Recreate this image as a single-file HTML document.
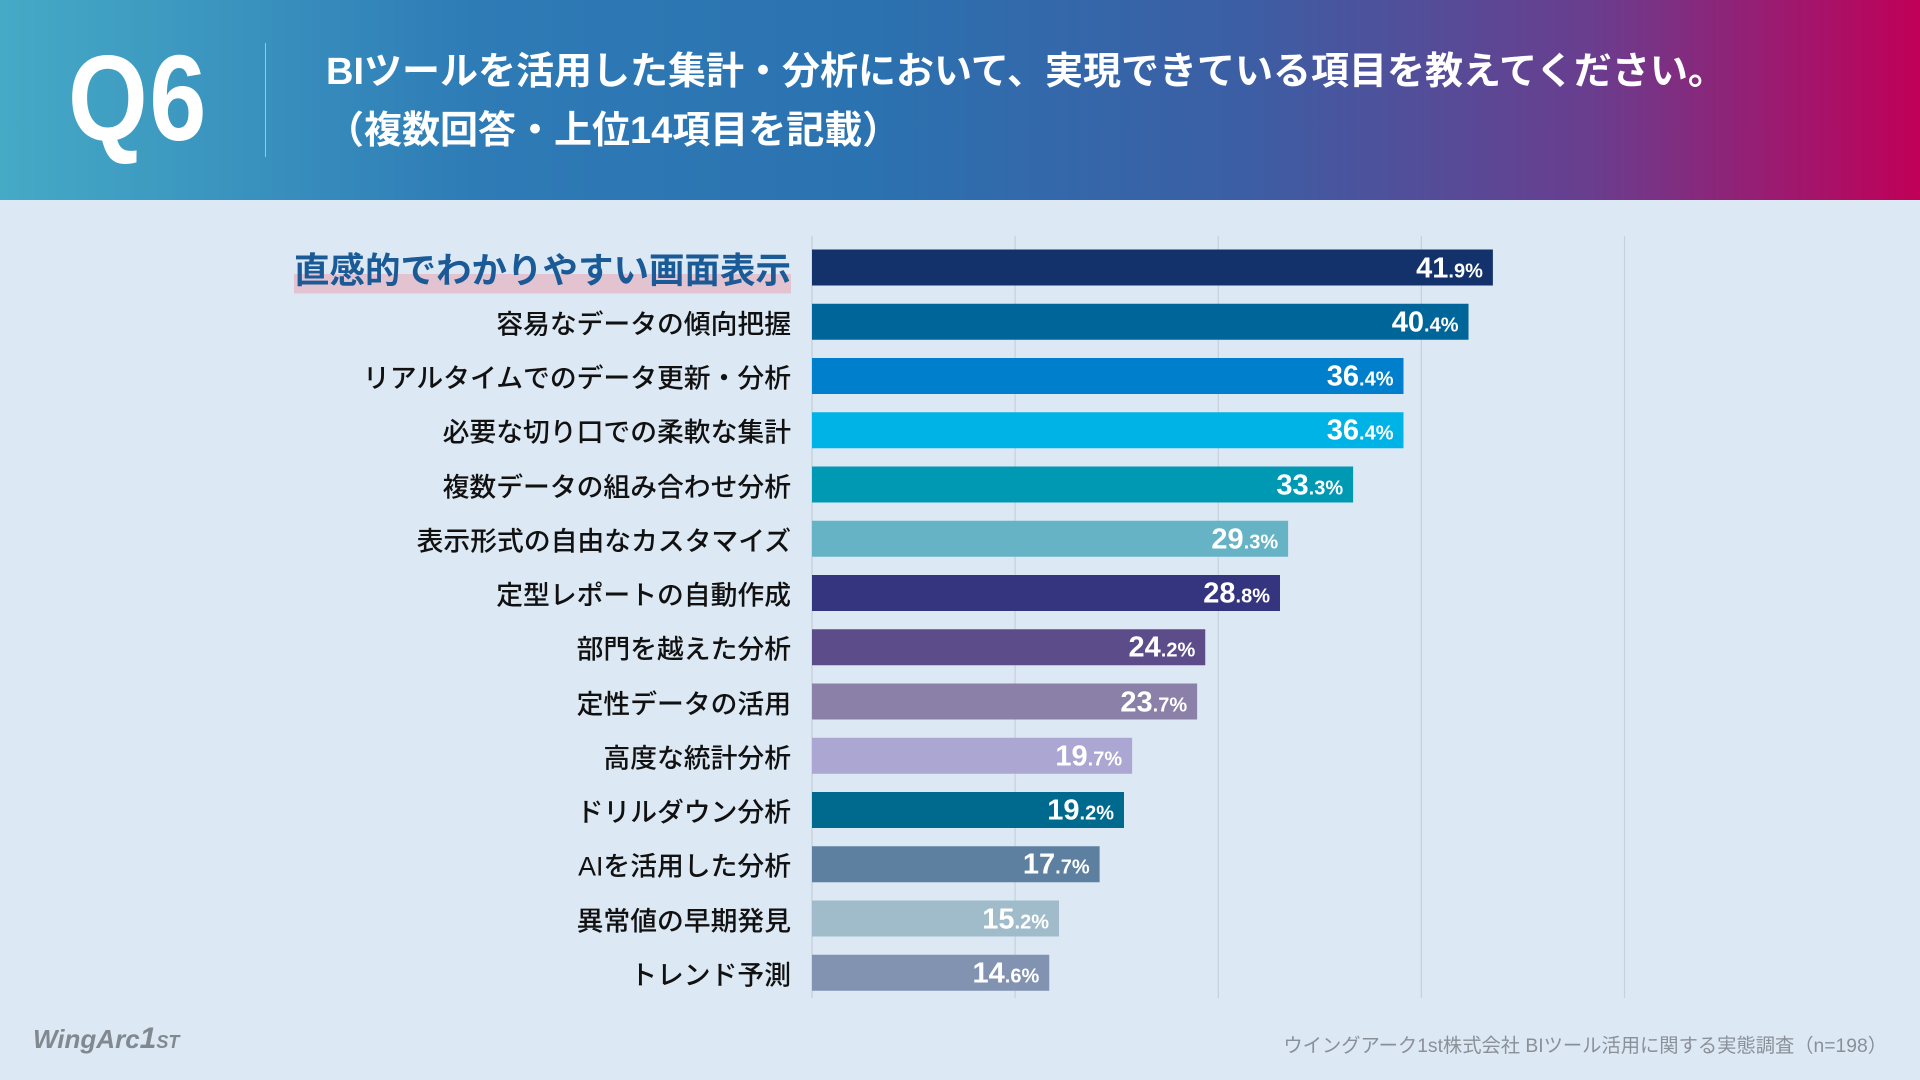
<!DOCTYPE html>
<html><head><meta charset="utf-8"><style>
*{margin:0;padding:0;box-sizing:border-box}
body{width:1920px;height:1080px;background:#dce8f4;font-family:"Liberation Sans","Noto Sans CJK JP",sans-serif;position:relative;overflow:hidden}
#hdr{position:absolute;left:0;top:0;width:1920px;height:200px;background:linear-gradient(90deg,#45aac6 0%,#2e7bb6 25%,#2b72b0 45%,#3c5ea4 65%,#6a3d8e 83%,#c10058 100%)}
#q{position:absolute;left:68px;top:28px;font-size:122px;font-weight:bold;color:#fff;letter-spacing:2px;transform:scaleX(0.84);transform-origin:left top}
#div{position:absolute;left:265px;top:43px;width:1px;height:114px;background:rgba(255,255,255,.5)}
.t{position:absolute;left:326px;color:#fff;font-weight:bold;font-size:38px;white-space:nowrap}
.lbl{position:absolute;right:1129px;font-size:26.8px;font-weight:500;color:#111;white-space:nowrap;transform:translateY(-50%)}
.val{position:absolute;color:#fff;font-weight:bold;font-size:29px;white-space:nowrap;transform:translateY(-50%)}
.val small{font-size:20px}
</style></head><body>
<div id="hdr">
<div id="q">Q6</div>
<div id="div"></div>
<div class="t" style="top:40px">BIツールを活用した集計・分析において、実現できている項目を教えてください。</div>
<div class="t" style="top:99px">（複数回答・上位14項目を記載）</div>
</div>
<svg id="chart" width="1920" height="1080" style="position:absolute;left:0;top:0"></svg>
<div id="labels"></div>
<div style="position:absolute;left:33px;top:1022px;font-size:26px;font-weight:bold;color:#808890;font-style:italic">WingArc<span style="font-size:30px">1</span><span style="font-size:18px">ST</span></div>
<div style="position:absolute;right:33px;top:1030px;font-size:19.3px;color:#8a9098">ウイングアーク1st株式会社 BIツール活用に関する実態調査（n=198）</div>
<script>
const categories=["直感的でわかりやすい画面表示","容易なデータの傾向把握","リアルタイムでのデータ更新・分析","必要な切り口での柔軟な集計","複数データの組み合わせ分析","表示形式の自由なカスタマイズ","定型レポートの自動作成","部門を越えた分析","定性データの活用","高度な統計分析","ドリルダウン分析","AIを活用した分析","異常値の早期発見","トレンド予測"];
const values=[41.9,40.4,36.4,36.4,33.3,29.3,28.8,24.2,23.7,19.7,19.2,17.7,15.2,14.6];
const colors=["#13316a","#006699","#0080cc","#00b3e6","#0099b3","#66b3c6","#35347f","#5c4d8a","#8a80a8","#aba6d2","#006a8e","#5e80a0","#a0bccb","#8293b1"];
const gridTicks=[0,12.5,25,37.5,50];
const x0=812,pxPer=16.25,y0=267.5,step=54.25,bh=36;
const xs=v=>x0+v*pxPer, ys=i=>y0+i*step;
const svg=document.getElementById('chart'),NS="http://www.w3.org/2000/svg";
gridTicks.forEach(t=>{const l=document.createElementNS(NS,'line');


l.setAttribute('x1',xs(t));l.setAttribute('x2',xs(t));l.setAttribute('y1',236);l.setAttribute('y2',998);
l.setAttribute('stroke',t===0?'#c4ccd6':'#c8d0da');l.setAttribute('stroke-width',1.2);svg.appendChild(l);});
const L=document.getElementById('labels');
values.forEach((v,i)=>{const r=document.createElementNS(NS,'rect');


r.setAttribute('x',x0);r.setAttribute('y',ys(i)-bh/2);r.setAttribute('width',xs(v)-x0);r.setAttribute('height',bh);r.setAttribute('fill',colors[i]);svg.appendChild(r);
const d=document.createElement('div');


d.className='lbl';d.style.top=ys(i)+'px';d.textContent=categories[i];
if(i===0){d.style.fontSize='35.5px';d.style.fontWeight='bold';d.style.color='#1a5a96';d.style.background='linear-gradient(transparent 62%,#e3c3cf 62%)';}
L.appendChild(d);
const s=document.createElement('div');


s.className='val';s.style.top=(ys(i)+1)+'px';s.style.right=(1920-xs(v)+10)+'px';
const p=v.toFixed(1).split('.');s.innerHTML=p[0]+'<small>.'+p[1]+'%</small>';L.appendChild(s);});
</script>
</body></html>
